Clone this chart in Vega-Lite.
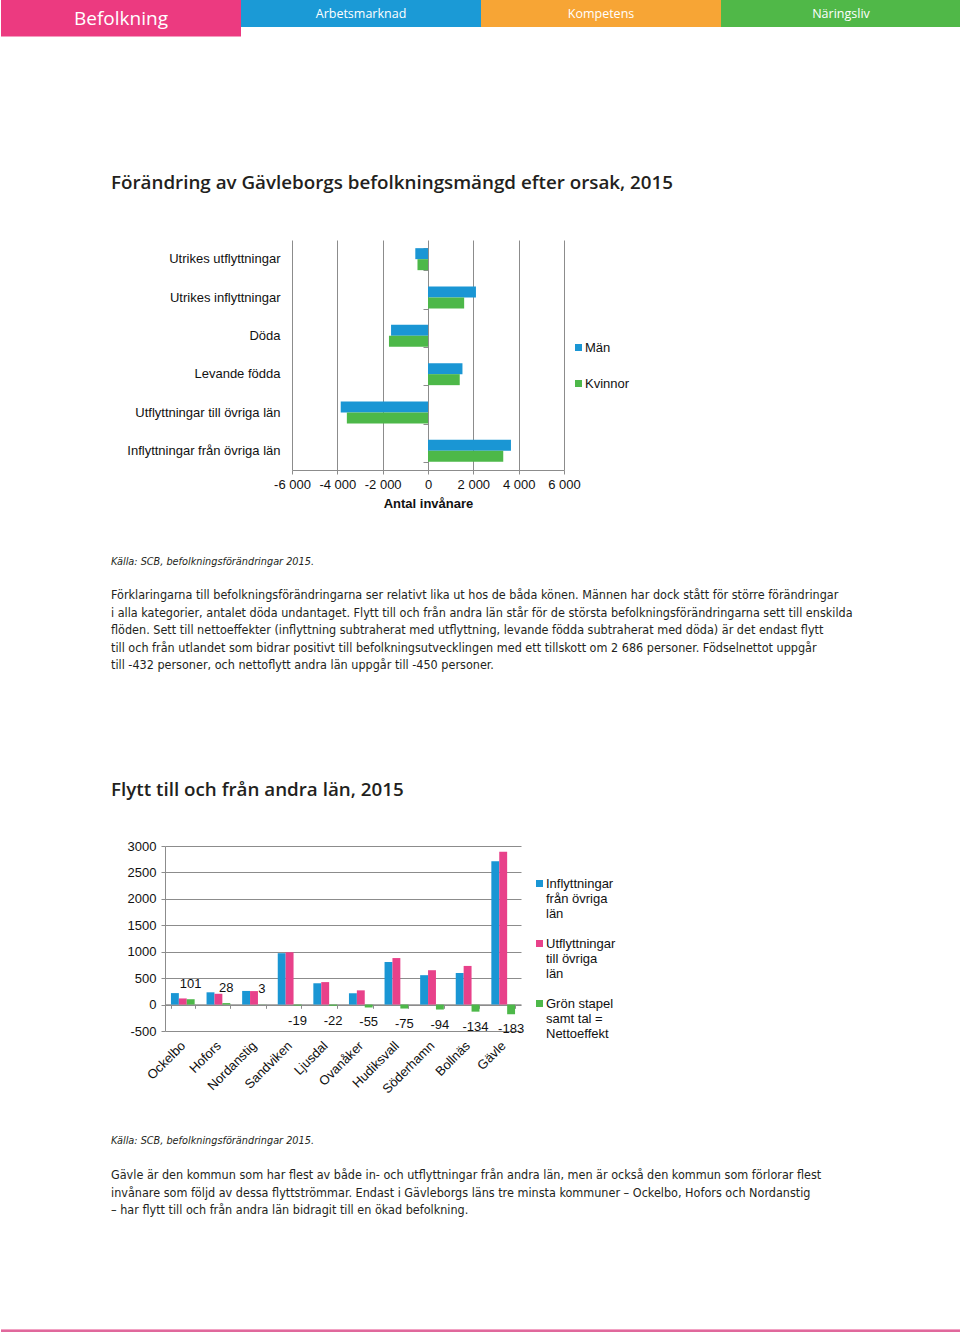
{
  "$schema": "https://vega.github.io/schema/vega-lite/v6.json",
  "background": "white",
  "padding": 0,
  "spacing": 0,
  "bounds": "flush",
  "resolve": {"scale": {"color": "independent"}, "legend": {"color": "independent"}},
  "config": {
    "view": {"stroke": null},
    "axis": {"labelFont": "Liberation Sans", "titleFont": "Liberation Sans", "labelColor": "#111111", "titleColor": "#111111"},
    "legend": {"labelFont": "Liberation Sans", "labelColor": "#111111"}
  },
  "vconcat": [
    {
      "width": 960,
      "height": 37,
      "data": {"values": [
        {"flik": "Befolkning", "aktiv": true},
        {"flik": "Arbetsmarknad", "aktiv": false},
        {"flik": "Kompetens", "aktiv": false},
        {"flik": "Näringsliv", "aktiv": false}
      ]},
      "encoding": {
        "x": {"field": "flik", "type": "nominal", "scale": {"domain": ["Befolkning", "Arbetsmarknad", "Kompetens", "Näringsliv"], "paddingInner": 0, "paddingOuter": 0}, "axis": null}
      },
      "layer": [
        {"transform": [{"filter": "datum.aktiv"}], "mark": {"type": "rect"}, "encoding": {"y": {"value": 0}, "y2": {"value": 36.5}, "color": {"field": "flik", "type": "nominal", "scale": {"domain": ["Befolkning", "Arbetsmarknad", "Kompetens", "Näringsliv"], "range": ["#ec3a80", "#1b9ad6", "#f7a535", "#50b848"]}, "legend": null}}},
        {"transform": [{"filter": "!datum.aktiv"}], "mark": {"type": "rect"}, "encoding": {"y": {"value": 0}, "y2": {"value": 27}, "color": {"field": "flik", "type": "nominal", "legend": null}}},
        {"transform": [{"filter": "datum.aktiv"}], "mark": {"type": "text", "font": "Open Sans", "fontSize": 19, "color": "white"}, "encoding": {"text": {"field": "flik"}, "y": {"value": 19}}},
        {"transform": [{"filter": "!datum.aktiv"}], "mark": {"type": "text", "font": "Open Sans", "fontSize": 12.5, "color": "white"}, "encoding": {"text": {"field": "flik"}, "y": {"value": 14}}}
      ]
    },
    {
      "width": 960,
      "height": 203,
      "data": {"values": [{"rubrik": "Förändring av Gävleborgs befolkningsmängd efter orsak, 2015"}]},
      "mark": {"type": "text", "align": "left", "baseline": "alphabetic", "font": "Open Sans", "fontSize": 18.8, "fontWeight": 600, "color": "#231f20"},
      "encoding": {"text": {"field": "rubrik"}, "x": {"value": 110}, "y": {"value": 152}}
    },
    {
      "spacing": 0,
      "bounds": "flush",
      "resolve": {"scale": {"color": "independent"}, "legend": {"color": "independent"}},
      "hconcat": [
        {"width": 291, "height": 230, "data": {"values": [{}]}, "mark": {"type": "text"}, "encoding": {"text": {"value": ""}}},
        {
          "width": 272,
          "height": 230,
          "data": {"values": [
            {"orsak": "Utrikes utflyttningar", "kon": "Män", "antal": -560},
            {"orsak": "Utrikes utflyttningar", "kon": "Kvinnor", "antal": -464},
            {"orsak": "Utrikes inflyttningar", "kon": "Män", "antal": 2115},
            {"orsak": "Utrikes inflyttningar", "kon": "Kvinnor", "antal": 1595},
            {"orsak": "Döda", "kon": "Män", "antal": -1630},
            {"orsak": "Döda", "kon": "Kvinnor", "antal": -1722},
            {"orsak": "Levande födda", "kon": "Män", "antal": 1520},
            {"orsak": "Levande födda", "kon": "Kvinnor", "antal": 1400},
            {"orsak": "Utflyttningar till övriga län", "kon": "Män", "antal": -3850},
            {"orsak": "Utflyttningar till övriga län", "kon": "Kvinnor", "antal": -3580},
            {"orsak": "Inflyttningar från övriga län", "kon": "Män", "antal": 3660},
            {"orsak": "Inflyttningar från övriga län", "kon": "Kvinnor", "antal": 3320}
          ]},
          "encoding": {
            "x": {"field": "antal", "type": "quantitative", "scale": {"domain": [-6000, 6000], "nice": false, "zero": false}, "axis": {"values": [-6000, -4000, -2000, 0, 2000, 4000, 6000], "grid": true, "gridColor": "#8c8c8c", "gridOpacity": 1, "domainColor": "#8c8c8c", "tickColor": "#8c8c8c", "tickSize": 4, "labelFontSize": 13, "labelPadding": 4, "labelFlush": false, "labelExpr": "(datum.value < 0 ? '-' : '') + replace(format(abs(datum.value), ','), ',', ' ')", "title": "Antal invånare", "titleFontSize": 13, "titleFontWeight": "bold", "titlePadding": 6}}
          },
          "layer": [
            {
              "mark": {"type": "bar"},
              "encoding": {
                "y": {"field": "orsak", "type": "nominal", "sort": ["Utrikes utflyttningar", "Utrikes inflyttningar", "Döda", "Levande födda", "Utflyttningar till övriga län", "Inflyttningar från övriga län"], "scale": {"paddingInner": 0.426, "paddingOuter": 0.213}, "axis": {"title": null, "domain": false, "ticks": false, "labelFontSize": 13, "labelPadding": 12, "labelLimit": 300}},
                "yOffset": {"field": "kon", "type": "nominal", "sort": ["Män", "Kvinnor"]},
                "color": {"field": "kon", "type": "nominal", "scale": {"domain": ["Män", "Kvinnor"], "range": ["#1a96d4", "#4db849"]}, "legend": {"title": null, "orient": "none", "legendX": 280, "legendY": 101, "symbolType": "square", "symbolSize": 49, "symbolStrokeWidth": 0, "labelFontSize": 13, "labelOffset": 0, "rowPadding": 22, "padding": 0}}
              }
            },
            {
              "mark": {"type": "bar", "opacity": 0},
              "encoding": {
                "y": {"field": "orsak", "type": "nominal", "sort": ["Utrikes utflyttningar", "Utrikes inflyttningar", "Döda", "Levande födda", "Utflyttningar till övriga län", "Inflyttningar från övriga län"], "axis": {"title": null, "orient": "left", "offset": -136, "domain": false, "labels": false, "ticks": true, "tickBand": "extent", "tickSize": 5, "tickColor": "#8c8c8c"}}
              }
            }
          ],
          "resolve": {"axis": {"y": "independent"}}
        }
      ]
    },
    {"width": 960, "height": 230, "data": {"values": [{}]}, "mark": {"type": "text"}, "encoding": {"text": {"value": ""}}},
    {
      "width": 960,
      "height": 376,
      "layer": [
        {
          "data": {"values": [{"t": "Källa: SCB, befolkningsförändringar 2015."}]},
          "mark": {"type": "text", "align": "left", "baseline": "alphabetic", "font": "DejaVu Sans Condensed, Liberation Sans", "fontSize": 10.8, "fontStyle": "italic", "color": "#231f20"},
          "encoding": {"text": {"field": "t"}, "x": {"value": 110}, "y": {"value": 95}}
        },
        {
          "data": {"values": [{"rader": [
            "Förklaringarna till befolkningsförändringarna ser relativt lika ut hos de båda könen. Männen har dock stått för större förändringar",
            "i alla kategorier, antalet döda undantaget. Flytt till och från andra län står för de största befolkningsförändringarna sett till enskilda",
            "flöden. Sett till nettoeffekter (inflyttning subtraherat med utflyttning, levande födda subtraherat med döda) är det endast flytt",
            "till och från utlandet som bidrar positivt till befolkningsutvecklingen med ett tillskott om 2 686 personer. Födselnettot uppgår",
            "till -432  personer, och nettoflytt andra län uppgår till -450 personer."
          ]}]},
          "mark": {"type": "text", "align": "left", "baseline": "alphabetic", "font": "DejaVu Sans Condensed, Liberation Sans", "fontSize": 12.5, "lineHeight": 17.5, "color": "#231f20"},
          "encoding": {"text": {"field": "rader"}, "x": {"value": 110}, "y": {"value": 129}}
        },
        {
          "data": {"values": [{"t": "Flytt till och från andra län, 2015"}]},
          "mark": {"type": "text", "align": "left", "baseline": "alphabetic", "font": "Open Sans", "fontSize": 18.8, "fontWeight": 600, "color": "#231f20"},
          "encoding": {"text": {"field": "t"}, "x": {"value": 110}, "y": {"value": 326}}
        }
      ]
    },
    {
      "spacing": 0,
      "bounds": "flush",
      "resolve": {"scale": {"color": "independent"}, "legend": {"color": "independent"}},
      "hconcat": [
        {"width": 164, "height": 185, "data": {"values": [{}]}, "mark": {"type": "text"}, "encoding": {"text": {"value": ""}}},
        {
          "width": 356,
          "height": 185,
          "data": {"values": [
            {"kommun": "Ockelbo", "serie": "Inflyttningar från övriga län", "antal": 217},
            {"kommun": "Ockelbo", "serie": "Utflyttningar till övriga län", "antal": 116},
            {"kommun": "Ockelbo", "serie": "Grön stapel samt tal = Nettoeffekt", "antal": 101},
            {"kommun": "Hofors", "serie": "Inflyttningar från övriga län", "antal": 232},
            {"kommun": "Hofors", "serie": "Utflyttningar till övriga län", "antal": 204},
            {"kommun": "Hofors", "serie": "Grön stapel samt tal = Nettoeffekt", "antal": 28},
            {"kommun": "Nordanstig", "serie": "Inflyttningar från övriga län", "antal": 258},
            {"kommun": "Nordanstig", "serie": "Utflyttningar till övriga län", "antal": 255},
            {"kommun": "Nordanstig", "serie": "Grön stapel samt tal = Nettoeffekt", "antal": 3},
            {"kommun": "Sandviken", "serie": "Inflyttningar från övriga län", "antal": 972},
            {"kommun": "Sandviken", "serie": "Utflyttningar till övriga län", "antal": 991},
            {"kommun": "Sandviken", "serie": "Grön stapel samt tal = Nettoeffekt", "antal": -19},
            {"kommun": "Ljusdal", "serie": "Inflyttningar från övriga län", "antal": 403},
            {"kommun": "Ljusdal", "serie": "Utflyttningar till övriga län", "antal": 425},
            {"kommun": "Ljusdal", "serie": "Grön stapel samt tal = Nettoeffekt", "antal": -22},
            {"kommun": "Ovanåker", "serie": "Inflyttningar från övriga län", "antal": 214},
            {"kommun": "Ovanåker", "serie": "Utflyttningar till övriga län", "antal": 269},
            {"kommun": "Ovanåker", "serie": "Grön stapel samt tal = Nettoeffekt", "antal": -55},
            {"kommun": "Hudiksvall", "serie": "Inflyttningar från övriga län", "antal": 805},
            {"kommun": "Hudiksvall", "serie": "Utflyttningar till övriga län", "antal": 880},
            {"kommun": "Hudiksvall", "serie": "Grön stapel samt tal = Nettoeffekt", "antal": -75},
            {"kommun": "Söderhamn", "serie": "Inflyttningar från övriga län", "antal": 556},
            {"kommun": "Söderhamn", "serie": "Utflyttningar till övriga län", "antal": 650},
            {"kommun": "Söderhamn", "serie": "Grön stapel samt tal = Nettoeffekt", "antal": -94},
            {"kommun": "Bollnäs", "serie": "Inflyttningar från övriga län", "antal": 597},
            {"kommun": "Bollnäs", "serie": "Utflyttningar till övriga län", "antal": 731},
            {"kommun": "Bollnäs", "serie": "Grön stapel samt tal = Nettoeffekt", "antal": -134},
            {"kommun": "Gävle", "serie": "Inflyttningar från övriga län", "antal": 2710},
            {"kommun": "Gävle", "serie": "Utflyttningar till övriga län", "antal": 2893},
            {"kommun": "Gävle", "serie": "Grön stapel samt tal = Nettoeffekt", "antal": -183}
          ]},
          "encoding": {
            "x": {"field": "kommun", "type": "nominal", "sort": ["Ockelbo", "Hofors", "Nordanstig", "Sandviken", "Ljusdal", "Ovanåker", "Hudiksvall", "Söderhamn", "Bollnäs", "Gävle"], "scale": {"paddingInner": 0.334, "paddingOuter": 0.167}, "axis": {"title": null, "offset": -26.7, "domainColor": "#8c8c8c", "tickColor": "#8c8c8c", "tickSize": 4, "tickBand": "extent", "labelAngle": -45, "labelAlign": "right", "labelBaseline": "middle", "labelPadding": 35, "labelFontSize": 13}},
            "xOffset": {"field": "serie", "type": "nominal", "sort": ["Inflyttningar från övriga län", "Utflyttningar till övriga län", "Grön stapel samt tal = Nettoeffekt"]},
            "y": {"field": "antal", "type": "quantitative", "scale": {"domain": [-500, 3000], "nice": false, "zero": false}, "axis": {"title": null, "values": [-500, 0, 500, 1000, 1500, 2000, 2500, 3000], "grid": true, "gridColor": "#8c8c8c", "gridOpacity": 1, "domainColor": "#8c8c8c", "tickColor": "#8c8c8c", "tickSize": 4, "labelPadding": 5, "labelFontSize": 13, "labelFlush": false, "labelExpr": "'' + datum.value"}}
          },
          "layer": [
            {
              "mark": {"type": "bar"},
              "encoding": {
                "color": {"field": "serie", "type": "nominal", "scale": {"domain": ["Inflyttningar från övriga län", "Utflyttningar till övriga län", "Grön stapel samt tal = Nettoeffekt"], "range": ["#1a96d4", "#e8418a", "#4db849"]}, "legend": {"title": null, "orient": "none", "legendX": 368, "legendY": 31, "symbolType": "square", "symbolSize": 49, "symbolStrokeWidth": 0, "labelFontSize": 13, "labelOffset": 0, "labelBaseline": "alphabetic", "labelLimit": 200, "rowPadding": 16, "padding": 0, "labelExpr": "datum.label == 'Inflyttningar från övriga län' ? ['Inflyttningar', 'från övriga', 'län'] : datum.label == 'Utflyttningar till övriga län' ? ['Utflyttningar', 'till övriga', 'län'] : ['Grön stapel', 'samt tal =', 'Nettoeffekt']", "encoding": {"labels": {"dy": {"value": 4.5}}}}}
              }
            },
            {
              "transform": [{"filter": "datum.serie == 'Grön stapel samt tal = Nettoeffekt' && datum.antal >= 0"}],
              "mark": {"type": "text", "baseline": "bottom", "dy": -8, "font": "Liberation Sans", "fontSize": 13, "color": "#111111"},
              "encoding": {"text": {"field": "antal", "type": "nominal"}}
            },
            {
              "transform": [{"filter": "datum.serie == 'Grön stapel samt tal = Nettoeffekt' && datum.antal < 0"}],
              "mark": {"type": "text", "baseline": "top", "dy": 9, "font": "Liberation Sans", "fontSize": 13, "color": "#111111"},
              "encoding": {"text": {"field": "antal", "type": "nominal"}}
            }
          ]
        }
      ]
    },
    {"width": 960, "height": 185, "data": {"values": [{}]}, "mark": {"type": "text"}, "encoding": {"text": {"value": ""}}},
    {
      "width": 960,
      "height": 301,
      "layer": [
        {
          "data": {"values": [{"t": "Källa: SCB, befolkningsförändringar 2015."}]},
          "mark": {"type": "text", "align": "left", "baseline": "alphabetic", "font": "DejaVu Sans Condensed, Liberation Sans", "fontSize": 10.8, "fontStyle": "italic", "color": "#231f20"},
          "encoding": {"text": {"field": "t"}, "x": {"value": 110}, "y": {"value": 113}}
        },
        {
          "data": {"values": [{"rader": [
            "Gävle är den kommun som har flest av både in- och utflyttningar från andra län, men är också den kommun som förlorar flest",
            "invånare som följd av dessa flyttströmmar. Endast i Gävleborgs läns tre minsta kommuner – Ockelbo, Hofors och Nordanstig",
            "– har flytt till och från andra län bidragit till en ökad befolkning."
          ]}]},
          "mark": {"type": "text", "align": "left", "baseline": "alphabetic", "font": "DejaVu Sans Condensed, Liberation Sans", "fontSize": 12.5, "lineHeight": 17.5, "color": "#231f20"},
          "encoding": {"text": {"field": "rader"}, "x": {"value": 110}, "y": {"value": 148}}
        },
        {
          "data": {"values": [{}]},
          "mark": {"type": "rule", "color": "#f2a3c4", "strokeWidth": 1},
          "encoding": {"x": {"value": 0}, "x2": {"value": 960}, "y": {"value": 298.5}}
        },
        {
          "data": {"values": [{}]},
          "mark": {"type": "rule", "color": "#d6367b", "strokeWidth": 1.5},
          "encoding": {"x": {"value": 0}, "x2": {"value": 960}, "y": {"value": 300}}
        }
      ]
    }
  ]
}
